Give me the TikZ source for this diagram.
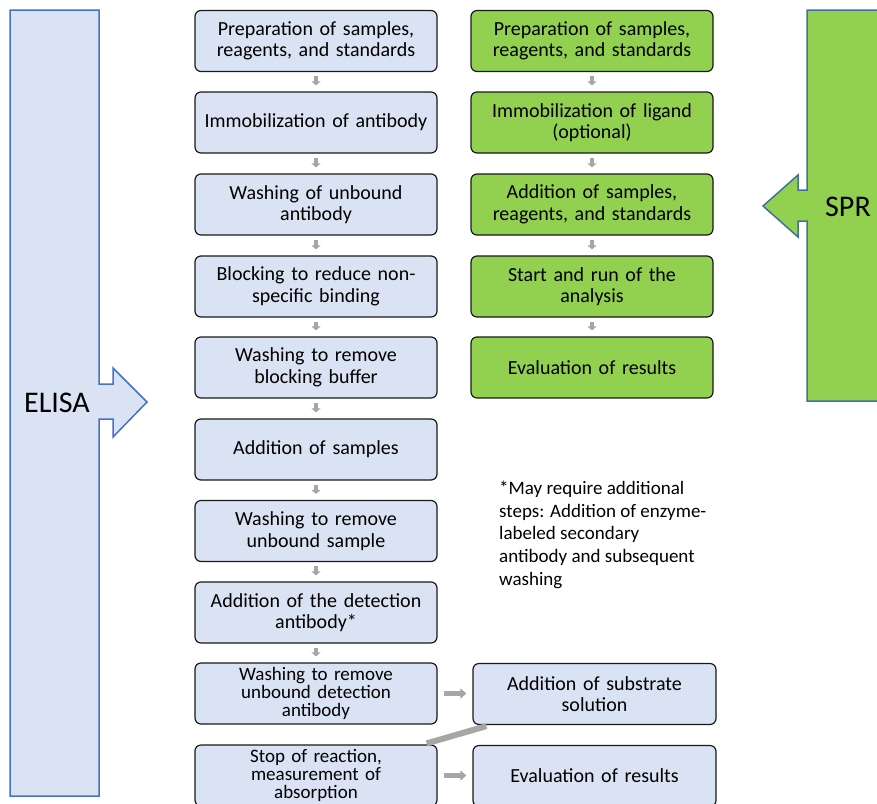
\documentclass[tikz,border=0pt]{standalone}
\usepackage{fontspec}
\setmainfont{Carlito}
\usetikzlibrary{arrows.meta}
\definecolor{lblue}{HTML}{DAE3F3}
\definecolor{lgreen}{HTML}{92D050}
\definecolor{bblue}{HTML}{4472C4}
\definecolor{sblue}{HTML}{41719C}
\definecolor{agray}{HTML}{A6A6A6}
\tikzset{
  box/.style={draw=black!90, line width=1.2pt, rounded corners=6pt,
    minimum width=242pt, minimum height=61pt, text width=238pt, align=center,
    inner sep=0pt, font=\fontsize{20}{21.5}\selectfont},
  ebox/.style={box, fill=lblue},
  gbox/.style={box, fill=lgreen},
  tight/.style={font=\fontsize{19}{18}\selectfont},
  smallarr/.style={draw=agray, line width=4pt, -{Triangle[width=9pt,length=4pt]},
    shorten <=4pt, shorten >=6pt},
  horarr/.style={draw=agray, line width=5pt, -{Triangle[width=10pt,length=6pt]},
    shorten <=6pt, shorten >=6pt},
  diagline/.style={draw=agray, line width=6pt},
  bigshape/.style={line width=1.5pt, line join=miter}
}
\begin{document}
\begin{tikzpicture}[x=1pt,y=-1pt]
\useasboundingbox (0,0) rectangle (877,803);
\clip (0,0) rectangle (877,803);

% ELISA block arrow
\draw[bigshape, draw=bblue, fill=lblue]
  (10,10) -- (99,10) -- (99,384) -- (113,384) -- (113,368) -- (147,402)
  -- (113,437) -- (113,419) -- (99,419) -- (99,796) -- (10,796) -- cycle;
\node[font=\fontsize{30}{32}\selectfont, anchor=center] (elisa) at (57,403) {ELISA};

% SPR block arrow
\draw[bigshape, draw=sblue, fill=lgreen]
  (895,10) -- (807,10) -- (807,190) -- (798,190) -- (798,175) -- (763,206)
  -- (798,237) -- (798,221) -- (807,221) -- (807,401) -- (895,401);
\node[font=\fontsize{30}{32}\selectfont, anchor=center] (spr) at (848,207) {SPR};

% ELISA column
\node[ebox] (e1) at (316,41) {Preparation of samples,\\reagents, and standards};
\node[ebox] (e2) at (316,122.5) {Immobilization of antibody};
\node[ebox] (e3) at (316,204.5) {Washing of unbound\\antibody};
\node[ebox] (e4) at (316,286.5) {Blocking to reduce non-\\specific binding};
\node[ebox] (e5) at (316,367.5) {Washing to remove\\blocking buffer};
\node[ebox] (e6) at (316,449.5) {Addition of samples};
\node[ebox] (e7) at (316,531) {Washing to remove\\unbound sample};
\node[ebox] (e8) at (316,612.5) {Addition of the detection\\antibody*};
\node[ebox, tight] (e9) at (316,693.5) {Washing to remove\\unbound detection\\antibody};
\node[ebox, tight] (e10) at (316,775.5) {Stop of reaction,\\measurement of\\absorption};

\node[ebox, minimum width=243pt] (r1) at (594.5,694) {Addition of substrate\\solution};
\node[ebox, minimum width=243pt] (r2) at (594.5,776) {Evaluation of results};

% SPR column
\node[gbox] (s1) at (592,41) {Preparation of samples,\\reagents, and standards};
\node[gbox] (s2) at (592,122.5) {Immobilization of ligand\\(optional)};
\node[gbox] (s3) at (592,204.5) {Addition of samples,\\reagents, and standards};
\node[gbox] (s4) at (592,286.5) {Start and run of the\\analysis};
\node[gbox] (s5) at (592,367.5) {Evaluation of results};

% note
\node[anchor=north west, align=left, inner sep=0pt,
  font=\fontsize{19}{22.6}\selectfont] (note) at (499,481)
  {*May require additional\\steps: Addition of enzyme-\\labeled secondary\\antibody and subsequent\\washing};

% small arrows
\foreach \a/\b in {e1/e2,e2/e3,e3/e4,e4/e5,e5/e6,e6/e7,e7/e8,e8/e9,s1/s2,s2/s3,s3/s4,s4/s5}
  \draw[smallarr] (\a.south) -- (\b.north);

% horizontal arrows
\draw[horarr] (e9.east) -- (e9.east -| r1.west);
\draw[horarr] (e10.east) -- (e10.east -| r2.west);
% diagonal connector
\draw[diagline] ([xshift=14pt,yshift=-1pt]r1.south west) -- ([xshift=-11pt,yshift=1pt]e10.north east);
\end{tikzpicture}
\end{document}
